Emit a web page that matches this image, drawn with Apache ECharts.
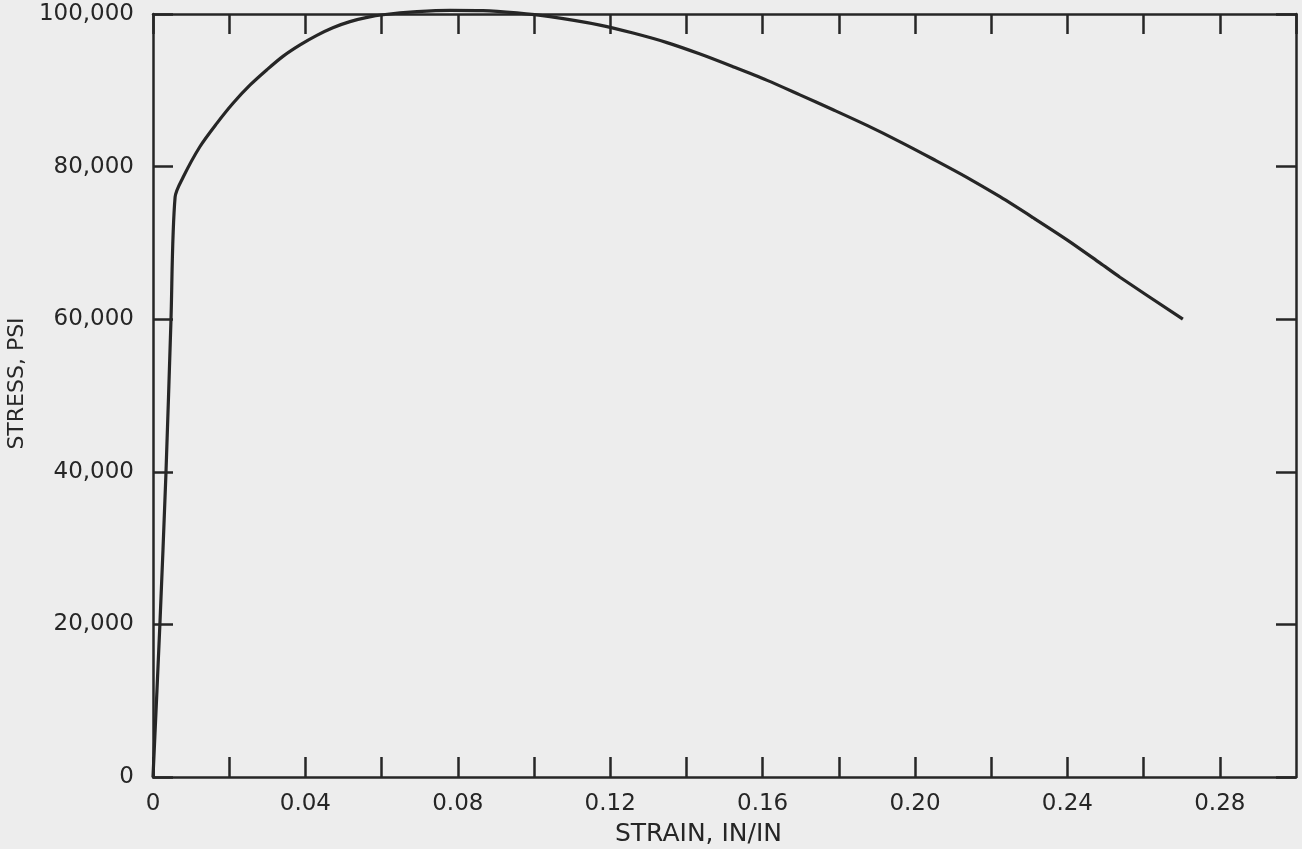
<!DOCTYPE html>
<html>
<head>
<meta charset="utf-8">
<script src="https://cdn.jsdelivr.net/npm/echarts@6/dist/echarts.min.js"></script>
<style>
  html, body { margin: 0; padding: 0; background: #ededed; }
  #chart { width: 1302px; height: 849px; }
</style>
</head>
<body>
<div id="chart"></div>
<script>
// Data
var strain = [0, 0.0018, 0.0034, 0.0047, 0.0058, 0.0079, 0.0123, 0.0168, 0.0210, 0.0255, 0.0299, 0.0341, 0.0386, 0.0430, 0.0472, 0.0517, 0.0562, 0.0604, 0.0693, 0.0780, 0.0866, 0.0955, 0.1042, 0.1173, 0.1260, 0.1349, 0.1436, 0.1522, 0.1612, 0.1698, 0.1785, 0.1874, 0.1961, 0.2047, 0.2136, 0.2223, 0.2310, 0.2399, 0.2486, 0.2538, 0.2703];
var stress = [0, 19900, 39800, 59600, 76000, 78600, 82600, 85700, 88300, 90700, 92700, 94450, 95950, 97200, 98200, 99000, 99550, 99900, 100300, 100480, 100450, 100150, 99650, 98550, 97500, 96250, 94750, 93100, 91300, 89400, 87450, 85400, 83250, 81000, 78600, 76050, 73300, 70400, 67350, 65500, 60000];

var xTickLabels = ['0', '0.04', '0.08', '0.12', '0.16', '0.20', '0.24', '0.28'];
var yTickLabels = ['0', '20,000', '40,000', '60,000', '80,000', '100,000'];
var xName = 'STRAIN, IN/IN';
var yName = 'STRESS, PSI';

var points = strain.map(function (s, i) { return [s, stress[i]]; });

var ink = '#262626';
var font = 'DejaVu Sans';

var chart = echarts.init(document.getElementById('chart'), null, { renderer: 'canvas' });

function xFmt(v) {
  var k = Math.round(v * 100);
  if (k % 4 !== 0) return '';
  var idx = k / 4;
  return xTickLabels[idx] !== undefined ? xTickLabels[idx] : '';
}
function yFmt(v) {
  var idx = Math.round(v / 20000);
  return yTickLabels[idx] !== undefined ? yTickLabels[idx] : '';
}

var axisLine = { show: true, onZero: false, lineStyle: { color: ink, width: 2.5 } };
var tick = { show: true, inside: true, length: 20, lineStyle: { color: ink, width: 2.5 } };

chart.setOption({
  backgroundColor: '#ededed',
  animation: false,
  grid: { left: 153, right: 6, top: 14, bottom: 72, containLabel: false, outerBoundsMode: 'none' },
  xAxis: [
    {
      type: 'value', position: 'bottom', min: 0, max: 0.30, interval: 0.02,
      axisLine: axisLine, axisTick: tick, splitLine: { show: false },
      axisLabel: { show: true, formatter: xFmt, color: ink, fontFamily: font, fontSize: 23, margin: 16, showMaxLabel: false },
      name: xName, nameLocation: 'middle', nameGap: 45,
      nameTextStyle: { color: ink, fontFamily: font, fontSize: 25, padding: [0, 52, 0, 0] }
    },
    {
      type: 'value', position: 'top', min: 0, max: 0.30, interval: 0.02,
      axisLine: axisLine, axisTick: tick, splitLine: { show: false },
      axisLabel: { show: false }
    }
  ],
  yAxis: [
    {
      type: 'value', position: 'left', min: 0, max: 100000, interval: 20000,
      axisLine: axisLine, axisTick: tick, splitLine: { show: false },
      axisLabel: { show: true, formatter: yFmt, color: ink, fontFamily: font, fontSize: 23, margin: 19 },
      name: yName, nameLocation: 'middle', nameGap: 119,
      nameTextStyle: { color: ink, fontFamily: font, fontSize: 22, padding: [0, 0, 0, 24] }
    },
    {
      type: 'value', position: 'right', min: 0, max: 100000, interval: 20000,
      axisLine: axisLine, axisTick: tick, splitLine: { show: false },
      axisLabel: { show: false }
    }
  ],
  series: [{
    type: 'line',
    data: points,
    xAxisIndex: 0, yAxisIndex: 0,
    showSymbol: false,
    smooth: 0.3,
    clip: false,
    lineStyle: { color: ink, width: 3.2 }
  }]
});
</script>
</body>
</html>
